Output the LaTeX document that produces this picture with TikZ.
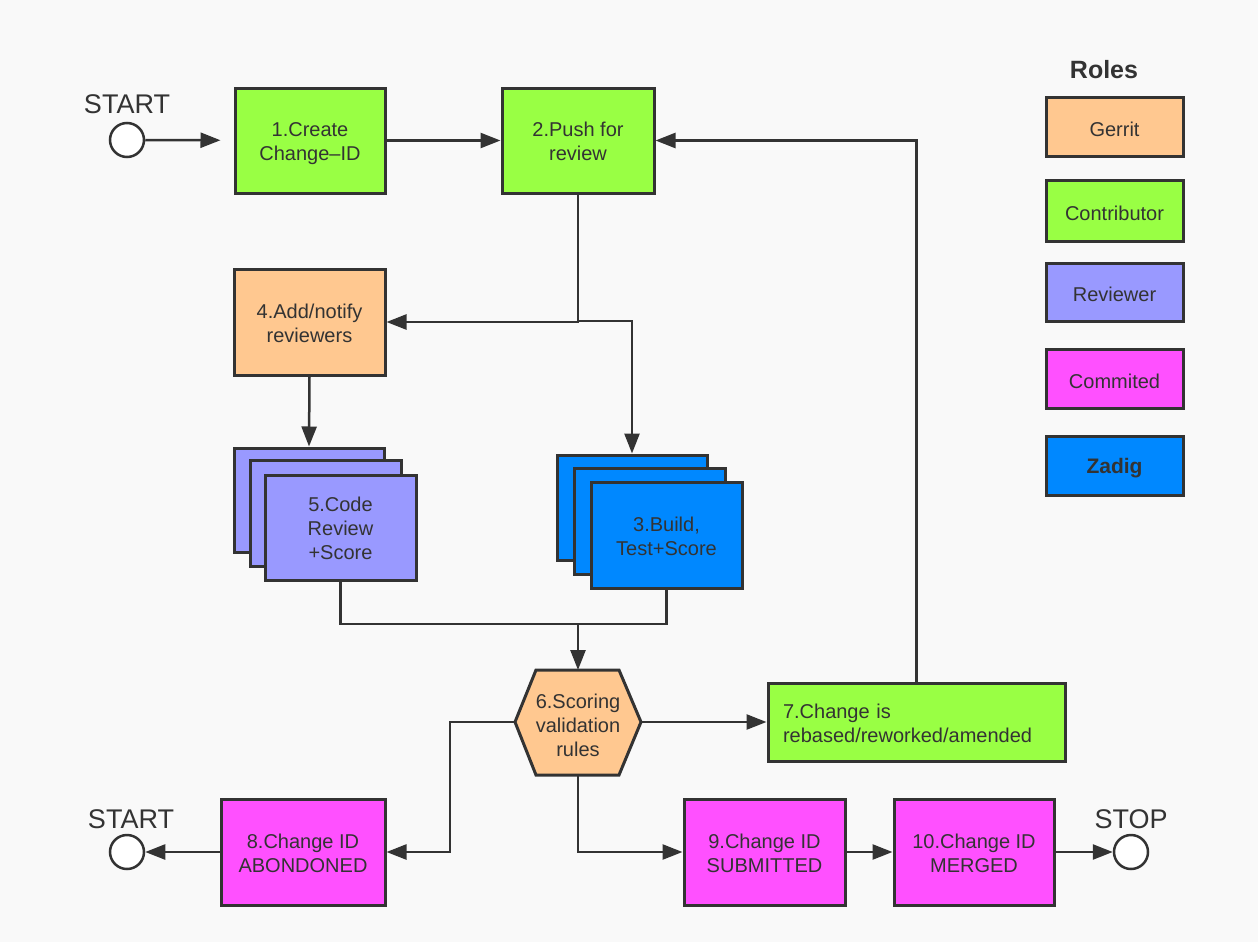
\documentclass[tikz,border=0pt]{standalone}
\usepackage{fontspec}
\setmainfont{Liberation Sans}
\usetikzlibrary{arrows.meta,shapes.geometric}
\definecolor{bg}{HTML}{F9F9F9}
\definecolor{edge}{HTML}{333333}
\definecolor{txt}{HTML}{333333}
\definecolor{cgreen}{HTML}{99FF44}
\definecolor{corange}{HTML}{FFC890}
\definecolor{cviolet}{HTML}{9999FF}
\definecolor{cmagenta}{HTML}{FF50FF}
\definecolor{cblue}{HTML}{0088FF}
\newcommand\tx[1]{\raisebox{-3.5pt}[\height][\depth]{\begin{tabular}{@{}c@{}}#1\end{tabular}}}
\newcommand\txl[1]{\raisebox{-3pt}[\height][\depth]{\begin{tabular}{@{}l@{}}#1\end{tabular}}}
\begin{document}
\begin{tikzpicture}[x=1pt,y=-1pt,
  box/.style={draw=edge, line width=3pt, text=txt, align=center, inner sep=0pt,
    font=\fontsize{20}{24}\selectfont},
  legbox/.style={box, minimum width=137, minimum height=59, execute at begin node={\rule{0pt}{20pt}}},
  endpt/.style={draw=edge, line width=2.5pt, fill=white, circle, minimum size=34, inner sep=0pt},
  lbl/.style={text=txt, font=\fontsize{27}{30}\selectfont, inner sep=0pt},
  ln/.style={draw=edge, line width=2.5pt},
  arr/.style={ln, -{Triangle[length=20pt,width=15pt]}}]
\fill[bg] (0,0) rectangle (1258,942);
\useasboundingbox (0,0) rectangle (1258,942);

% start / stop
\node[endpt] (s1) at (127,140) {};
\node[lbl] (s1l) at (127,104) {START};
\node[endpt] (s2) at (127,852) {};
\node[lbl] (s2l) at (131,819) {START};
\node[endpt] (s3) at (1131,852) {};
\node[lbl] (s3l) at (1131,819) {STOP};

% main boxes
\node[box, fill=cgreen, minimum width=150, minimum height=105] (b1) at (310,140.5) {\tx{1.Create\\Change–ID}};
\node[box, fill=cgreen, minimum width=152, minimum height=105] (b2) at (578,140.5) {\tx{2.Push for\\review}};
\node[box, fill=corange, minimum width=151, minimum height=106] (b4) at (309.5,322) {\tx{4.Add/notify\\reviewers}};

% stack 5
\node[box, fill=cviolet, minimum width=150, minimum height=104] (b5a) at (309,500) {};
\node[box, fill=cviolet, minimum width=151, minimum height=106] (b5b) at (325.5,513) {};
\node[box, fill=cviolet, minimum width=151, minimum height=105] (b5c) at (340.5,527.5) {\tx{5.Code\\Review\\+Score}};

% stack 3
\node[box, fill=cblue, minimum width=150, minimum height=105] (b3a) at (632,507.5) {};
\node[box, fill=cblue, minimum width=151, minimum height=106] (b3b) at (649.5,521) {};
\node[box, fill=cblue, minimum width=151, minimum height=106] (b3c) at (666.5,535) {\tx{3.Build,\\Test+Score}};

% hexagon
\coordinate (hexL) at (515,722);
\coordinate (hexR) at (641,722);
\coordinate (hexT) at (578,670);
\coordinate (hexB) at (578,775);
\filldraw[fill=corange, draw=edge, line width=3pt, line join=miter]
  (hexL) -- (536,670) -- (619,670) -- (hexR) -- (619,775) -- (536,775) -- cycle;
\node[text=txt, align=center, font=\fontsize{20}{24}\selectfont, inner sep=0pt] (hex) at (578,725) {6.Scoring\\validation\\rules};

\node[box, fill=cgreen, minimum width=297, minimum height=78, text width=267, align=left] (b7) at (916.5,722.5) {\txl{7.Change is\\rebased/reworked/amended}};

\node[box, fill=cmagenta, minimum width=164, minimum height=106] (b8) at (303,852) {\tx{8.Change ID\\ABONDONED}};
\node[box, fill=cmagenta, minimum width=161, minimum height=106] (b9) at (764.5,852) {\tx{9.Change ID\\SUBMITTED}};
\node[box, fill=cmagenta, minimum width=160, minimum height=106] (b10) at (974,852) {\tx{10.Change ID\\MERGED}};

% legend
\node[text=txt, font=\fontsize{25}{28}\selectfont\bfseries, inner sep=0pt] (roles) at (1104,70) {Roles};
\node[legbox, fill=corange] (lg1) at (1114.5,126.5) {Gerrit};
\node[legbox, fill=cgreen, minimum height=61] (lg2) at (1114.5,210.5) {Contributor};
\node[legbox, fill=cviolet, minimum height=58] (lg3) at (1114.5,292) {Reviewer};
\node[legbox, fill=cmagenta] (lg4) at (1114.5,378.5) {Commited};
\node[legbox, fill=cblue, font=\fontsize{21}{24}\selectfont\bfseries] (lg5) at (1114.5,465.5) {Zadig};

% connectors
\draw[arr, shorten >=13pt] (s1) -- (b1);
\draw[arr] (b1) -- (b2);
\coordinate (j1) at (578,321);
\draw[arr] (b2.south) |- (b4.east);
\draw[arr] (j1) -| (b3a.north);
\draw[arr] (b4.south) -- (b5a.north);
\coordinate (j2) at (578,624);
\draw[ln] (b5c.south) |- (j2);
\draw[ln] (b3c.south) |- (j2);
\draw[arr] (j2) -- (hexT);
\draw[arr] (hexR) -- (hexR -| b7.west);
\draw[arr] (b7.north) |- (b2.east);
\coordinate (j3) at (450,722);
\draw[arr] (hexL) -- (j3) |- (b8.east);
\draw[arr] (b8) -- (s2);
\draw[arr] (hexB) |- (b9.west);
\draw[arr] (b9) -- (b10);
\draw[arr] (b10) -- (s3);
\end{tikzpicture}
\end{document}
